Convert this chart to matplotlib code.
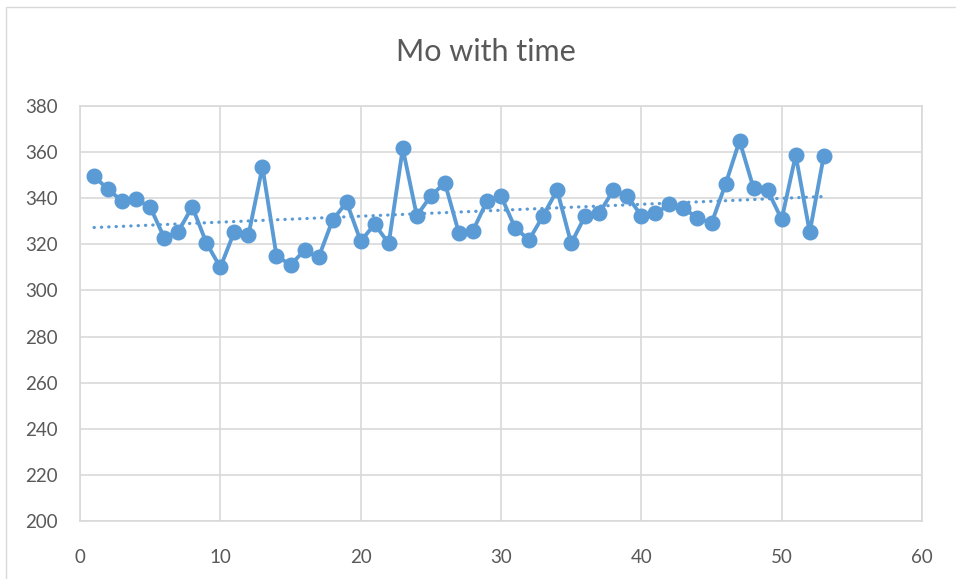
import numpy as np
import matplotlib
matplotlib.use("Agg")
import matplotlib.pyplot as plt
from matplotlib.patches import Rectangle

# Data
time = list(range(1, 54))
mo = [349.6, 343.8, 338.8, 339.5, 336.2, 322.9, 325.5, 336.3, 320.7, 310.0,
      325.5, 323.9, 353.6, 315.1, 311.0, 317.5, 314.3, 330.5, 338.3, 321.4,
      328.7, 320.4, 361.6, 332.4, 341.0, 346.7, 324.9, 325.9, 338.8, 341.0,
      327.2, 321.9, 332.4, 343.5, 320.4, 332.4, 333.4, 343.5, 341.0, 332.4,
      333.4, 337.3, 335.6, 331.5, 329.1, 346.1, 364.9, 344.3, 343.5, 330.8,
      358.7, 325.2, 358.4]
xticks = [0, 10, 20, 30, 40, 50, 60]
yticks = [200, 220, 240, 260, 280, 300, 320, 340, 360, 380]
title = "Mo with time"

plt.rcParams['font.family'] = ['Lato', 'DejaVu Sans']
blue = "#5B9BD5"
grid_c = "#D9D9D9"
text_c = "#595959"

fig = plt.figure(figsize=(9.56, 5.79), dpi=100)
fig.patches.append(Rectangle((6/956, -0.05), 1.2, 1 - 7/579 + 0.05,
                             transform=fig.transFigure, fill=False,
                             edgecolor=grid_c, linewidth=1.0))
ax = fig.add_axes([80/956, 1 - 521/579, (922 - 80)/956, (521 - 106)/579])

x = np.array(time)
y = np.array(mo)
ax.plot(x, y, color=blue, linewidth=2.8, marker='o', markersize=10.5,
        markerfacecolor=blue, markeredgecolor=blue, zorder=3)

coef = np.polyfit(x, y, 1)
xt = np.array([x.min(), x.max()])
ax.plot(xt, np.polyval(coef, xt), color=blue, linewidth=2.3,
        linestyle=(0, (0.1, 2.2)), dash_capstyle='round', zorder=2)

ax.set_xlim(xticks[0], xticks[-1])
ax.set_ylim(yticks[0], yticks[-1])
ax.set_xticks(xticks)
ax.set_yticks(yticks)
ax.grid(True, color=grid_c, linewidth=1.2)
ax.set_axisbelow(True)
for s in ax.spines.values():
    s.set_color(grid_c)
    s.set_linewidth(1.2)
ax.tick_params(length=0, labelsize=13.5, colors=text_c)
ax.tick_params(axis='x', pad=20)
ax.tick_params(axis='y', pad=16)

fig.text(486/956, 1 - 52/579, title, ha='center',
         va='center', fontsize=22, color=text_c)

fig.savefig("out.png", dpi=100)
